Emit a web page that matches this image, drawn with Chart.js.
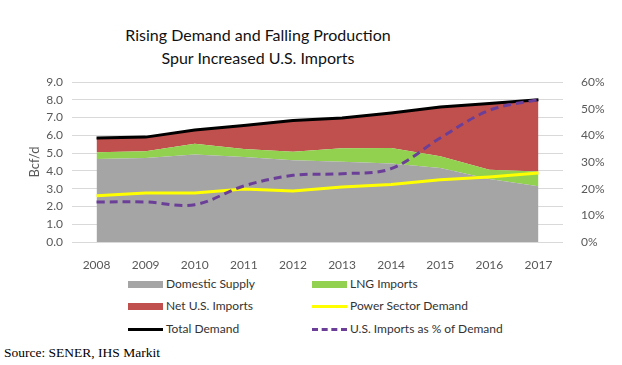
<!DOCTYPE html>
<html>
<head>
<meta charset="utf-8">
<script src="https://cdn.jsdelivr.net/npm/chart.js@4/dist/chart.umd.min.js"></script>
<style>
  body { margin: 0; background: #fff; }
  #wrap { position: relative; width: 622px; height: 365px; overflow: hidden; font-family: Lato, sans-serif; }
  #title { position: absolute; left: 0; width: 516px; top: 23px; text-align: center; font-size: 16px; line-height: 23px; color: #111; }
  #myChart { position: absolute; left: 0; top: 0; }
  .leg { position: absolute; font-size: 12px; color: #333; height: 14px; line-height: 14px; }
  .sw { position: absolute; left: 0; top: 4px; width: 35px; height: 7px; }
  .ln { position: absolute; left: 0; top: 6px; width: 35px; height: 0; border-top: 3px solid; }
  .leg span.t { position: absolute; left: 38px; white-space: nowrap; }
  #source { position: absolute; left: 4px; top: 345px; font-family: "Liberation Serif", serif; font-size: 13.5px; }
</style>
</head>
<body>
<div id="wrap">
  <div id="title">Rising Demand and Falling Production<br>Spur Increased U.S. Imports</div>
  <canvas id="myChart" width="622" height="270"></canvas>
  <div id="legend"></div>
  <div id="source">Source: SENER, IHS Markit</div>
</div>
<script>
const years = ['2008', '2009', '2010', '2011', '2012', '2013', '2014', '2015', '2016', '2017'];

// Bcf/d, stacked areas
const domesticSupply = [4.67, 4.73, 4.92, 4.78, 4.60, 4.52, 4.41, 4.16, 3.55, 3.13];
const lngImports = [0.38, 0.37, 0.61, 0.45, 0.48, 0.75, 0.88, 0.66, 0.52, 0.84];
const netImports = [0.80, 0.80, 0.77, 1.32, 1.75, 1.71, 1.97, 2.78, 3.72, 4.03];

// Bcf/d, lines
const powerDemand = [2.60, 2.76, 2.76, 2.98, 2.87, 3.10, 3.23, 3.50, 3.66, 3.88];
const totalDemand = [5.85, 5.90, 6.30, 6.55, 6.83, 6.98, 7.26, 7.60, 7.79, 8.00];

// percent, right axis
const importsShare = [15, 15, 14, 21, 25, 25.6, 27.5, 39, 49.4, 53.4];

const colors = {
  domestic: '#A5A5A5',
  lng: '#92D050',
  net: '#C0504D',
  power: '#FFFF00',
  total: '#000000',
  share: '#6B3F98'
};

const datasets = [
  {
    label: 'U.S. Imports as % of Demand',
    data: importsShare,
    yAxisID: 'y1',
    borderColor: colors.share,
    borderWidth: 3,
    borderDash: [8, 5],
    tension: 0.35,
    pointRadius: 0,
    fill: false,
    order: 0
  },
  {
    label: 'Total Demand',
    data: totalDemand,
    stack: 'total',
    borderColor: colors.total,
    borderWidth: 3,
    pointRadius: 0,
    fill: false,
    order: 1
  },
  {
    label: 'Power Sector Demand',
    data: powerDemand,
    stack: 'power',
    borderColor: colors.power,
    borderWidth: 3,
    pointRadius: 0,
    fill: false,
    order: 2
  },
  {
    label: 'Domestic Supply',
    data: domesticSupply,
    stack: 'supply',
    backgroundColor: colors.domestic,
    borderWidth: 0,
    pointRadius: 0,
    fill: 'origin',
    order: 3
  },
  {
    label: 'LNG Imports',
    data: lngImports,
    stack: 'supply',
    backgroundColor: colors.lng,
    borderWidth: 0,
    pointRadius: 0,
    fill: '-1',
    order: 3
  },
  {
    label: 'Net U.S. Imports',
    data: netImports,
    stack: 'supply',
    backgroundColor: colors.net,
    borderWidth: 0,
    pointRadius: 0,
    fill: '-1',
    order: 3
  }
];

const tickFont = { family: 'Lato', size: 12 };
const tickColor = '#595959';

const config = {
  type: 'line',
  data: { labels: years, datasets: datasets },
  options: {
    responsive: false,
    animation: false,
    devicePixelRatio: 1,
    layout: { padding: { top: 82, left: 0, right: 0, bottom: 0 } },
    plugins: {
      legend: { display: false },
      tooltip: { enabled: false }
    },
    scales: {
      x: {
        offset: true,
        grid: { display: false },
        border: { display: false },
        ticks: { font: tickFont, color: tickColor, padding: 8 },
        afterFit: s => { s.height = 28; }
      },
      y: {
        stacked: true,
        min: 0,
        max: 9,
        ticks: {
          stepSize: 1,
          font: tickFont,
          color: tickColor,
          padding: 9,
          callback: v => v.toFixed(1)
        },
        grid: { color: '#D9D9D9', drawTicks: false },
        border: { display: false },
        title: {
          display: true,
          text: 'Bcf/d',
          font: { family: 'Lato', size: 13 },
          color: tickColor,
          padding: { top: 27, bottom: 0 }
        },
        afterFit: s => { s.width = 72; }
      },
      y1: {
        position: 'right',
        min: 0,
        max: 60,
        ticks: {
          stepSize: 10,
          font: tickFont,
          color: tickColor,
          padding: 10,
          callback: v => v + '%'
        },
        grid: { display: false },
        border: { display: false },
        afterFit: s => { s.width = 59; }
      }
    }
  }
};

const canvasElement = document.getElementById('myChart');
const myChart = new Chart(canvasElement, config);

// legend laid out like the original: two columns, three rows
const legendItems = [
  { text: 'Domestic Supply', kind: 'area', color: colors.domestic, col: 0, row: 0 },
  { text: 'LNG Imports', kind: 'area', color: colors.lng, col: 1, row: 0 },
  { text: 'Net U.S. Imports', kind: 'area', color: colors.net, col: 0, row: 1 },
  { text: 'Power Sector Demand', kind: 'line', color: colors.power, col: 1, row: 1 },
  { text: 'Total Demand', kind: 'line', color: colors.total, col: 0, row: 2 },
  { text: 'U.S. Imports as % of Demand', kind: 'dash', color: colors.share, col: 1, row: 2 }
];
const colX = [128, 312];
const rowY = [277, 299, 322];
const legendEl = document.getElementById('legend');
legendItems.forEach(item => {
  const d = document.createElement('div');
  d.className = 'leg';
  d.style.left = colX[item.col] + 'px';
  d.style.top = rowY[item.row] + 'px';
  const sw = document.createElement('div');
  if (item.kind === 'area') {
    sw.className = 'sw';
    sw.style.background = item.color;
  } else {
    sw.className = 'ln';
    sw.style.borderTopColor = item.color;
    if (item.kind === 'dash') sw.style.borderTopStyle = 'dashed';
  }
  const t = document.createElement('span');
  t.className = 't';
  t.textContent = item.text;
  d.appendChild(sw);
  d.appendChild(t);
  legendEl.appendChild(d);
});
</script>
</body>
</html>
